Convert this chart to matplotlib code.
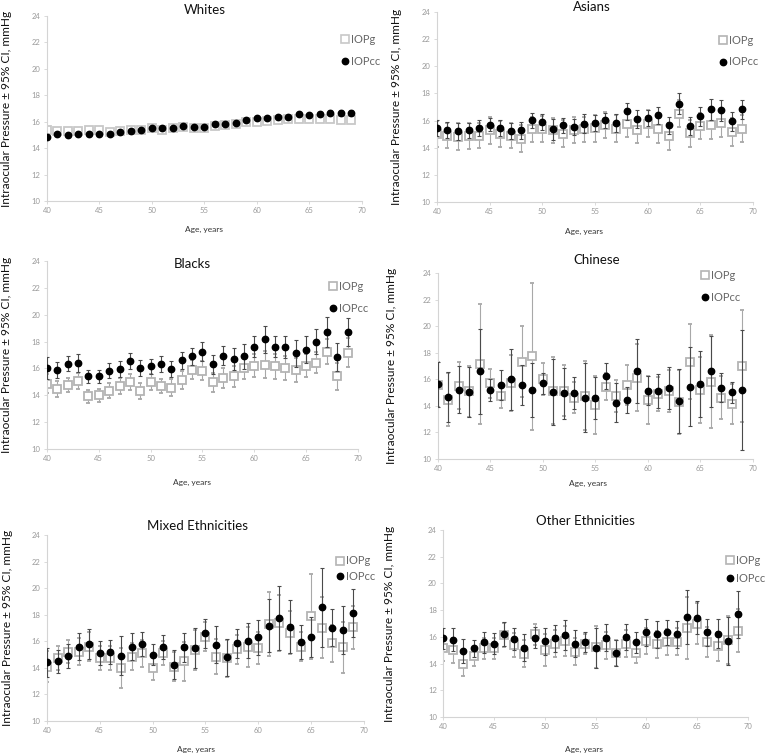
import matplotlib
matplotlib.use("Agg")
import matplotlib.pyplot as plt
from matplotlib.lines import Line2D
import numpy as np

plt.rcParams['font.family'] = ['Lato', 'DejaVu Sans']

ages = list(range(40, 70))
x_ticks = [40, 45, 50, 55, 60, 65, 70]
y_ticks = [10, 12, 14, 16, 18, 20, 22, 24]
titles = ["Whites", "Asians", "Blacks", "Chinese", "Mixed Ethnicities", "Other Ethnicities"]
legend_labels = ["IOPg", "IOPcc"]
ylabel_text = "Intraocular Pressure \u00b1 95% CI, mmHg"
xlabel_text = "Age, years"

# Whites
w_cc = [14.85,15.05,15.0,15.05,15.1,15.1,15.1,15.2,15.3,15.4,15.55,15.5,15.55,15.65,15.6,15.6,15.8,15.85,15.88,16.15,16.28,16.28,16.38,16.38,16.55,16.5,16.55,16.7,16.7,16.7]
w_g = [15.35,15.3,15.3,15.3,15.35,15.35,15.25,15.3,15.35,15.4,15.5,15.4,15.5,15.6,15.55,15.55,15.7,15.75,15.8,16.0,16.0,16.05,16.1,16.2,16.2,16.2,16.2,16.2,16.15,16.15]
w_cc_ci = [0.12,0.1,0.1,0.1,0.1,0.1,0.1,0.1,0.1,0.1,0.1,0.1,0.1,0.1,0.1,0.1,0.1,0.1,0.1,0.1,0.12,0.12,0.12,0.12,0.14,0.14,0.15,0.16,0.17,0.18]
w_g_ci = [0.14,0.12,0.12,0.12,0.12,0.12,0.12,0.12,0.12,0.12,0.12,0.12,0.12,0.12,0.12,0.12,0.12,0.12,0.12,0.12,0.13,0.13,0.13,0.13,0.15,0.15,0.16,0.17,0.18,0.19]

# Asians
a_cc = [15.45,15.33,15.2,15.28,15.45,15.7,15.45,15.23,15.28,16.02,15.9,15.35,15.65,15.53,15.77,15.84,16.02,15.84,16.68,16.14,16.19,16.38,15.65,17.25,15.58,16.31,16.83,16.75,15.95,16.83]
a_g = [15.0,14.9,14.8,14.85,14.9,15.28,15.03,14.9,14.67,15.35,15.4,15.28,15.03,15.28,15.35,15.45,15.65,15.4,15.77,15.28,15.77,15.4,14.85,16.5,15.06,15.58,15.65,15.82,15.16,15.4]
a_cc_ci = [0.6,0.6,0.6,0.55,0.6,0.5,0.6,0.6,0.65,0.55,0.6,0.8,0.55,0.6,0.7,0.6,0.55,0.65,0.65,0.65,0.6,0.65,0.6,0.75,0.65,0.7,0.75,0.75,0.7,0.7]
a_g_ci = [0.95,0.95,1.0,0.95,0.95,1.0,0.95,0.95,1.0,0.95,0.95,0.9,1.0,0.95,0.95,1.0,0.95,1.0,1.0,0.95,1.0,1.05,1.0,1.0,1.0,0.95,1.0,1.0,1.0,1.0]

# Blacks
b_cc = [16.02,15.9,16.34,16.4,15.4,15.4,15.82,15.95,16.57,16.02,16.15,16.34,15.95,16.6,16.89,17.26,16.32,16.94,16.69,16.89,17.63,18.18,17.63,17.58,17.14,17.38,18.0,18.7,16.84,18.7]
b_g = [14.86,14.46,14.78,15.08,13.92,14.0,14.34,14.66,14.98,14.34,14.98,14.7,14.58,15.15,15.9,15.82,14.96,15.28,15.4,16.02,16.2,16.27,16.15,16.02,15.9,16.2,16.44,17.26,15.4,17.18]
b_cc_ci = [0.8,0.6,0.55,0.65,0.5,0.5,0.55,0.6,0.6,0.6,0.55,0.6,0.6,0.65,0.65,0.7,0.7,0.7,0.8,0.95,0.8,1.0,0.8,0.8,1.0,1.0,0.95,1.1,1.05,1.05]
b_g_ci = [0.7,0.6,0.5,0.6,0.5,0.5,0.55,0.6,0.6,0.6,0.6,0.55,0.6,0.65,0.7,0.7,0.7,0.75,0.8,0.8,0.85,1.0,0.9,0.9,0.9,0.85,0.8,0.9,1.0,1.1]

# Chinese
c_cc = [15.63,14.65,15.23,15.05,16.59,15.2,15.58,16.0,15.58,15.2,15.7,15.05,14.95,14.95,14.63,14.58,16.26,14.25,14.45,16.64,15.13,15.13,15.33,14.37,15.45,15.63,16.59,15.38,15.03,15.2]
c_g = [15.6,14.45,15.53,15.1,17.16,15.71,14.75,15.7,17.34,17.72,16.03,15.15,15.15,14.63,14.75,14.07,15.45,14.75,15.58,16.13,14.45,14.88,15.13,14.3,17.34,15.2,15.83,14.63,14.12,17.01]
c_cc_ci = [1.7,1.9,1.8,1.9,3.2,0.8,1.1,2.3,1.5,2.0,0.8,2.5,1.9,1.2,2.6,1.6,1.0,1.5,1.0,2.4,1.1,1.3,1.6,2.4,3.0,2.5,2.7,1.1,0.8,4.5]
c_g_ci = [1.7,2.0,1.8,1.9,4.5,1.1,0.9,2.1,2.7,5.5,1.2,2.5,1.9,1.2,2.6,2.2,1.0,1.2,1.5,2.5,1.8,1.3,1.6,2.4,2.8,2.5,3.5,1.6,1.5,4.2]

# Mixed
m_cc = [14.43,14.48,14.9,15.6,15.8,15.1,15.18,14.93,15.6,15.78,14.98,15.55,14.23,15.55,15.48,16.6,15.73,14.78,15.85,16.05,16.3,17.18,17.73,17.1,15.93,16.35,18.55,17.03,16.85,18.1]
m_g = [14.1,14.73,15.23,15.23,15.6,14.73,14.73,13.98,14.85,15.1,13.98,15.1,14.1,14.48,15.35,16.35,14.85,14.73,15.4,15.6,15.48,17.3,17.4,16.65,15.6,17.9,17.03,15.85,15.55,17.05]
m_cc_ci = [1.1,0.9,0.9,1.0,1.1,0.9,0.9,1.5,1.0,0.9,0.8,0.9,1.1,1.1,1.5,1.1,1.4,1.4,1.1,1.3,1.3,2.0,2.4,2.0,1.3,1.5,3.0,1.4,1.8,1.8]
m_g_ci = [1.2,0.9,0.9,1.0,1.1,0.9,0.9,1.5,1.0,1.0,0.9,0.9,1.1,1.5,1.5,1.1,1.3,1.4,1.1,1.5,1.2,2.4,2.1,1.6,1.1,3.2,2.3,1.4,1.9,1.6]

# Other
o_cc = [15.88,15.8,14.95,15.13,15.58,15.5,16.2,15.83,15.18,15.93,15.68,15.88,16.13,15.5,15.63,15.2,15.93,14.8,16.0,15.58,16.33,16.2,16.33,16.2,17.5,17.45,16.33,16.25,15.7,17.68]
o_g = [15.13,15.0,14.0,14.55,15.13,15.13,16.13,15.38,14.75,16.18,15.05,15.5,15.7,14.88,15.5,15.25,15.38,14.8,15.5,14.83,15.7,15.45,15.63,15.63,16.68,17.0,15.63,15.3,15.75,16.45]
o_cc_ci = [0.8,0.85,0.9,0.65,0.75,0.8,0.9,0.8,1.0,0.8,1.0,1.0,1.1,1.0,0.75,1.5,1.0,1.0,1.0,0.8,1.0,1.0,0.95,1.0,2.0,1.2,1.0,1.1,1.8,1.75]
o_g_ci = [0.9,0.95,0.9,0.7,0.75,0.8,0.9,0.9,1.0,0.8,1.2,1.0,1.1,1.0,0.75,1.6,1.0,1.0,1.0,0.8,1.0,1.0,0.95,1.0,2.3,1.5,1.1,1.1,1.8,1.6]

series = [
    (w_g, w_g_ci, w_cc, w_cc_ci),
    (a_g, a_g_ci, a_cc, a_cc_ci),
    (b_g, b_g_ci, b_cc, b_cc_ci),
    (c_g, c_g_ci, c_cc, c_cc_ci),
    (m_g, m_g_ci, m_cc, m_cc_ci),
    (o_g, o_g_ci, o_cc, o_cc_ci),
]

# layout (figure fractions) and text placement (axes fractions)
axes_rects = [
    [0.0614, 0.733, 0.4118, 0.2457],
    [0.5712, 0.7317, 0.4130, 0.2523],
    [0.0614, 0.4037, 0.4065, 0.2497],
    [0.5725, 0.3904, 0.4118, 0.2470],
    [0.0614, 0.0425, 0.4144, 0.2470],
    [0.5791, 0.0478, 0.3987, 0.2483],
]
title_pos = [(0.50, 1.03), (0.49, 1.026), (0.466, 0.984), (0.505, 1.07), (0.476, 1.048), (0.466, 1.048)]
ylab_x = [-0.111, -0.111, -0.113, -0.13, -0.107, -0.157]
xlab_pos = [(0.50, -0.135), (0.465, -0.137), (0.466, -0.16), (0.476, -0.113), (0.47, -0.133), (0.462, -0.153)]
leg_pos = [(0.935, 0.905, 1.0), (0.895, 0.88, 0.95), (0.91, 0.895, 1.0), (0.838, 1.015, 0.95), (0.915, 0.89, 0.4), (0.93, 0.865, 0.6)]

fig = plt.figure(figsize=(7.65, 7.53), dpi=100)

spine_col = '#d4d4d4'
tick_col = '#9a9a9a'

for i, (g, gci, cc, ccci) in enumerate(series):
    ax = fig.add_axes(axes_rects[i])
    gcol = '#c8c8c8' if i == 0 else '#b4b4b4'
    ax.errorbar(ages, g, yerr=gci, fmt='s', mfc='white', mec=gcol, mew=1.3, ms=5.5,
                ecolor='#a8a8a8', elinewidth=0.8, capsize=1.6, capthick=0.8, zorder=2)
    ax.errorbar(ages, cc, yerr=ccci, fmt='o', mfc='black', mec='black', ms=4.6,
                ecolor='#4a4a4a', elinewidth=0.8, capsize=1.6, capthick=0.8, zorder=3)
    ax.set_xlim(40, 70)
    ax.set_ylim(10, 24)
    ax.set_xticks(x_ticks)
    ax.set_yticks(y_ticks)
    ax.set_xticklabels([str(t) for t in x_ticks])
    ax.set_yticklabels([str(t) for t in y_ticks])
    for s in ['top', 'right']:
        ax.spines[s].set_visible(False)
    for s in ['left', 'bottom']:
        ax.spines[s].set_color(spine_col)
        ax.spines[s].set_linewidth(0.8)
    ax.tick_params(axis='both', which='both', direction='out', length=2.5, width=0.6,
                   color=spine_col, labelcolor=tick_col, labelsize=5.5, pad=2)
    tx, ty = title_pos[i]
    ax.text(tx, ty, titles[i], transform=ax.transAxes, ha='center', va='center',
            fontsize=9.5, color='#111111')
    ax.set_ylabel(ylabel_text, fontsize=8.6, color='#111111')
    ax.yaxis.set_label_coords(ylab_x[i], 0.5)
    ax.set_xlabel(xlabel_text, fontsize=6, color='#333333')
    ax.xaxis.set_label_coords(*xlab_pos[i])
    handles = [
        Line2D([], [], marker='s', linestyle='none', mfc='white', mec=gcol, mew=1.2, ms=5.5),
        Line2D([], [], marker='o', linestyle='none', mfc='black', mec='black', ms=4.6),
    ]
    lx, ly, lsp = leg_pos[i]
    leg = ax.legend(handles, legend_labels, loc='upper left', bbox_to_anchor=(lx, ly),
                    frameon=False, handlelength=0.6, handletextpad=0.25,
                    labelspacing=lsp, fontsize=8, borderaxespad=0, borderpad=0)
    for t in leg.get_texts():
        t.set_color('#666666')

fig.savefig('out.png', dpi=100)
